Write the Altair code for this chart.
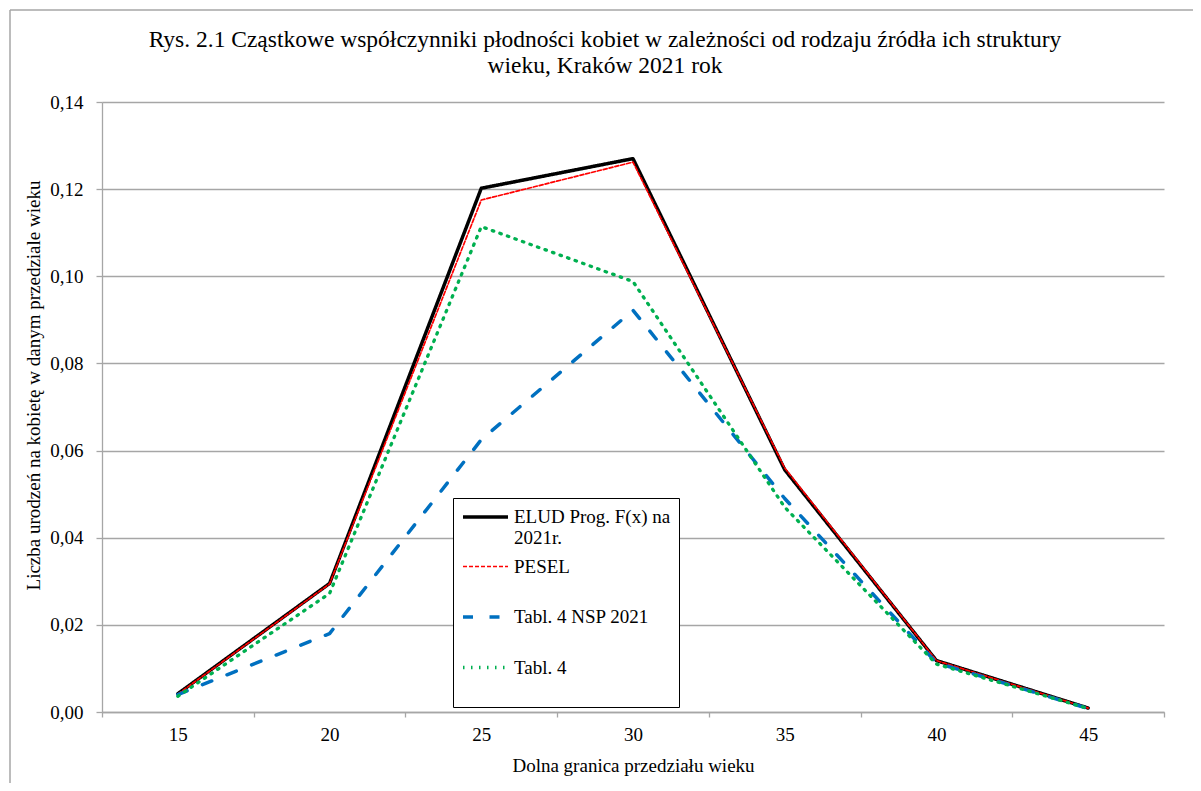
import altair as alt
import pandas as pd

ages = ["15", "20", "25", "30", "35", "40", "45"]
series_names = ["ELUD Prog. F(x) na 2021r.", "PESEL", "Tabl. 4 NSP 2021", "Tabl. 4"]
elud = [0.0042, 0.0295, 0.1202, 0.1270, 0.0556, 0.0118, 0.0009]
pesel = [0.0041, 0.0294, 0.1175, 0.1262, 0.0560, 0.0118, 0.0009]
nsp = [0.0040, 0.0180, 0.0625, 0.0922, 0.0490, 0.0113, 0.0008]
tabl4 = [0.0036, 0.0272, 0.1114, 0.0988, 0.0470, 0.0110, 0.0008]

colors = ["#000000", "#FF0000", "#0070C0", "#00B050"]
widths = [3.5, 1.7, 3.5, 3.3]
dashes = [[1, 0], [4, 2], [10, 16.5], [1.5, 6.5]]

rows = []
for name, vals in zip(series_names, [elud, pesel, nsp, tabl4]):
    for a, v in zip(ages, vals):
        rows.append({"age": a, "value": v, "series": name})
df = pd.DataFrame(rows)

FONT = "Liberation Serif"
W, H = 1062, 610

lines = alt.Chart(df).mark_line(strokeCap="round", strokeJoin="round").encode(
    x=alt.X("age:O", bandPosition=0.5,
            scale=alt.Scale(type="band", domain=ages, paddingInner=0, paddingOuter=0),
            axis=alt.Axis(title="Dolna granica przedziału wieku", labelAngle=0,
                          tickBand="extent", tickSize=5, labelPadding=8,
                          titlePadding=12)),
    y=alt.Y("value:Q", scale=alt.Scale(domain=[0, 0.14], nice=False),
            axis=alt.Axis(title="Liczba urodzeń na kobietę w danym przedziale wieku",
                          values=[0, 0.02, 0.04, 0.06, 0.08, 0.10, 0.12, 0.14],
                          labelExpr="replace(format(datum.value, '.2f'), '.', ',')",
                          tickSize=6, labelPadding=13, titlePadding=6, titleY=283,
                          grid=True)),
    color=alt.Color("series:N", scale=alt.Scale(domain=series_names, range=colors),
                    legend=alt.Legend(
                        title=None, orient="none", legendX=351, legendY=396,
                        direction="vertical", symbolType="M-1,0L4,0", symbolSize=324,
                        labelExpr="datum.label == 'ELUD Prog. F(x) na 2021r.' ? ['ELUD Prog. F(x) na', '2021r.'] : [datum.label, '']",
                        labelFont=FONT, labelFontSize=19, labelColor="#000000",
                        labelLimit=400, labelOffset=31,
                        strokeColor="#000000", fillColor="#FFFFFF",
                        padding=8, rowPadding=8.5)),
    strokeDash=alt.StrokeDash("series:N", scale=alt.Scale(domain=series_names, range=dashes),
                              legend=None),
    strokeWidth=alt.StrokeWidth("series:N",
                                scale=alt.Scale(type="ordinal", domain=series_names, range=widths),
                                legend=None),
    order=alt.Order("age:O"),
)

frame_top = alt.Chart(pd.DataFrame({"k": [0]})).mark_rule(color="#A6A6A6", strokeWidth=1.5).encode(
    x=alt.value(-92), x2=alt.value(1200), y=alt.value(-92))
frame_left = alt.Chart(pd.DataFrame({"k": [0]})).mark_rule(color="#A6A6A6", strokeWidth=1.5).encode(
    x=alt.value(-92), y=alt.value(-92), y2=alt.value(800))

chart = alt.layer(frame_top, frame_left, lines).properties(
    width=W, height=H,
    title=alt.TitleParams(
        ["Rys. 2.1 Cząstkowe współczynniki płodności kobiet w zależności od rodzaju źródła ich struktury",
         "wieku, Kraków 2021 rok"],
        font=FONT, fontSize=23.5, fontWeight="normal", color="#000000",
        anchor="middle", dx=-28, offset=-68, lineHeight=26),
    autosize=alt.AutoSizeParams(type="none"),
    padding={"left": 94, "top": 94, "right": 29, "bottom": 71},
    background="#FFFFFF",
).configure_view(stroke=None).configure_axis(
    labelFont=FONT, labelFontSize=19, labelColor="#000000",
    titleFont=FONT, titleFontSize=19, titleColor="#000000", titleFontWeight="normal",
    domainColor="#A6A6A6", tickColor="#A6A6A6", gridColor="#A6A6A6",
    domainWidth=1.3, tickWidth=1.3, gridWidth=1.3,
)

chart.save("out.html", embed_options={"renderer": "svg", "actions": False})
